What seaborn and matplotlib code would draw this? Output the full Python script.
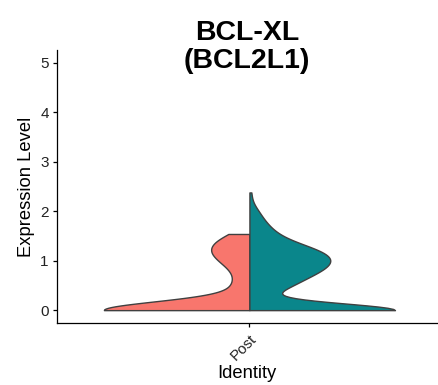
import numpy as np
import pandas as pd
import matplotlib
matplotlib.use("Agg")
import matplotlib.pyplot as plt
import seaborn as sns

# Expression levels (log-normalised) and number of cells at each level
identity = "Post"
split_levels = ["Group 1", "Group 2"]
group1_levels = [0.0, 0.4, 0.6, 0.8, 1.0, 1.2, 1.4, 1.54]
group1_cells = [100, 8, 4, 5, 10, 14, 11, 4]
group2_levels = [0.0, 0.35, 0.5, 0.65, 0.8, 0.95, 1.1, 1.25, 1.4, 1.55, 1.7, 1.85, 2.0, 2.15, 2.38]
group2_cells = [100, 9, 13, 17, 22, 25, 25, 20, 12, 8, 6, 4, 3, 1, 1]

# Kernel bandwidth (in expression units) per split group
group_bandwidth = [0.18, 0.14]

colors = {"Group 1": "#F8766D", "Group 2": "#0A868B"}
y_ticks = [0, 1, 2, 3, 4, 5]

sns.set_style("ticks")
plt.rcParams["font.family"] = ["Liberation Sans", "DejaVu Sans"]

frames = []
for name, levels, cells in [(split_levels[0], group1_levels, group1_cells),
                            (split_levels[1], group2_levels, group2_cells)]:
    expr = np.repeat(np.asarray(levels, dtype=float), cells)
    frames.append(pd.DataFrame({"ident": identity, "expr": expr, "split": name}))
cells_df = pd.concat(frames, ignore_index=True)

# each group gets its own absolute bandwidth; groups are told apart by size
sigma_by_size = {int(sum(group1_cells)): group_bandwidth[0],
                 int(sum(group2_cells)): group_bandwidth[1]}


def bandwidth_factor(kde):
    data = np.asarray(kde.dataset).ravel()
    return sigma_by_size[data.size] / data.std(ddof=1)


fig = plt.figure(figsize=(4.39, 3.85), dpi=100)
ax = fig.add_axes([57 / 439, 1 - 323 / 385, 380 / 439, 273 / 385])

sns.violinplot(
    data=cells_df, x="ident", y="expr", hue="split",
    order=[identity], hue_order=split_levels, palette=colors,
    split=True, cut=0, density_norm="width", inner=None,
    bw_method=bandwidth_factor, width=0.9,
    linecolor="#404040", linewidth=1.0, saturation=1,
    legend=False, ax=ax,
)

ax.set_xlim(-0.595, 0.58)
ax.set_ylim(-0.26, 5.26)
ax.set_yticks(y_ticks)
ax.set_yticklabels([str(t) for t in y_ticks])

for side in ["top", "right"]:
    ax.spines[side].set_visible(False)
for side in ["left", "bottom"]:
    ax.spines[side].set_linewidth(0.9)
    ax.spines[side].set_color("black")

ax.tick_params(axis="both", direction="out", length=3, width=0.9,
               color="black", labelcolor="#222222", labelsize=11, pad=3)
plt.setp(ax.get_xticklabels(), rotation=45, ha="right", va="top",
         rotation_mode="anchor")

ax.set_xlabel("Identity", fontsize=13.2, labelpad=2, color="black")
ax.set_ylabel("Expression Level", fontsize=13.2, labelpad=4, color="black")

cx = (57 + 437) / 2 / 439
fig.text(cx, 1 - 40 / 385, "BCL-XL", ha="center", va="baseline",
         fontsize=20.5, fontweight="bold", color="black")
fig.text(cx, 1 - 68.5 / 385, "(BCL2L1)", ha="center", va="baseline",
         fontsize=20.5, fontweight="bold", color="black")

fig.savefig("out.png", dpi=100)
